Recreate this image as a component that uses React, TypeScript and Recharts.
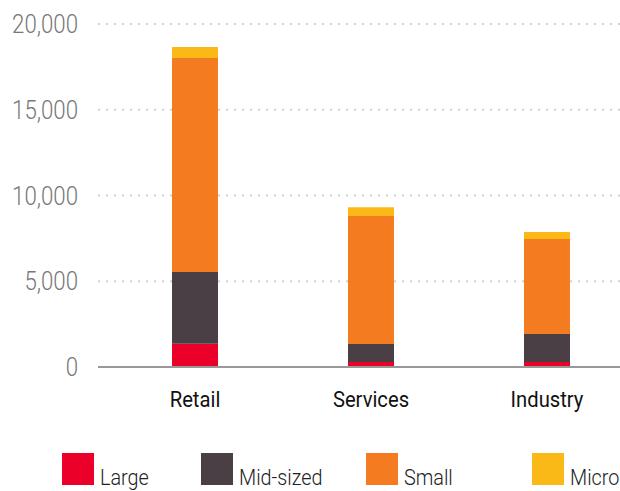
import { Bar, BarChart, CartesianGrid, XAxis, YAxis } from "recharts";

const categories = ["Retail", "Services", "Industry"];
const large = [1350, 290, 290];
const midSized = [4190, 1050, 1630];
const small = [12480, 7460, 5540];
const micro = [640, 520, 410];
const yTicks = [0, 5000, 10000, 15000, 20000];

const series = [
  { key: "large", label: "Large", color: "#EB0029" },
  { key: "midSized", label: "Mid-sized", color: "#4A3F45" },
  { key: "small", label: "Small", color: "#F47B20" },
  { key: "micro", label: "Micro", color: "#FBB917" },
];

// legend item widths in px (items are not evenly spaced in the original)
const legendWidths = [139, 165, 166, 90];

const data = categories.map((name, i) => ({
  name,
  large: large[i],
  midSized: midSized[i],
  small: small[i],
  micro: micro[i],
}));

const FONT = "Roboto, 'Noto Sans', sans-serif";

const YTick = ({ x, y, payload }: any) => (
  <g transform={`translate(${x - 12},${y}) scale(0.89,1)`}>
    <text
      x={0}
      y={0}
      dy="0.36em"
      textAnchor="end"
      fontSize={25}
      fontWeight={300}
      fill="#777"
      fontFamily={FONT}
    >
      {payload.value.toLocaleString("en-US")}
    </text>
  </g>
);

const XTick = ({ x, y, payload }: any) => (
  <g transform={`translate(${x},${y + 32}) scale(0.92,1)`}>
    <text x={0} y={0} textAnchor="middle" fontSize={22} fontWeight={400} fill="#111" fontFamily={FONT}>
      {payload.value}
    </text>
  </g>
);

export default function App() {
  return (
    <div
      style={{
        position: "absolute",
        left: 0,
        top: 0,
        width: 620,
        height: 491,
        overflow: "hidden",
        background: "#fff",
      }}
    >
      <BarChart
        width={640}
        height={491}
        data={data}
        margin={{ top: 24, right: 5, bottom: 0, left: 0 }}
      >
        <CartesianGrid
          vertical={false}
          stroke="#d2d2d2"
          strokeWidth={2}
          strokeDasharray="2 6"
        />
        <XAxis
          dataKey="name"
          height={124}
          padding={{ left: 9, right: 0 }}
          tickLine={false}
          axisLine={{ stroke: "#999", strokeWidth: 2 }}
          tick={<XTick />}
          interval={0}
        />
        <YAxis
          width={98}
          domain={[0, 20000]}
          ticks={yTicks}
          axisLine={false}
          tickLine={false}
          tick={<YTick />}
          interval={0}
        />
        {series.map((s) => (
          <Bar
            key={s.key}
            dataKey={s.key}
            name={s.label}
            stackId="a"
            fill={s.color}
            barSize={46}
            isAnimationActive={false}
          />
        ))}
      </BarChart>
      <div
        style={{
          position: "absolute",
          left: 62,
          top: 453,
          display: "flex",
          fontFamily: FONT,
        }}
      >
        {series.map((s, i) => (
          <div
            key={s.key}
            style={{ width: legendWidths[i], display: "flex", alignItems: "flex-end", height: 32 }}
          >
            <div style={{ width: 32, height: 32, background: s.color, flexShrink: 0 }} />
            <span
              style={{
                marginLeft: 6,
                fontSize: 22,
                fontWeight: 300,
                color: "#222",
                lineHeight: "22px",
                display: "inline-block",
                transform: "scaleX(0.9)",
                transformOrigin: "left bottom",
                whiteSpace: "nowrap",
                position: "relative",
                top: 4,
              }}
            >
              {s.label}
            </span>
          </div>
        ))}
      </div>
    </div>
  );
}
